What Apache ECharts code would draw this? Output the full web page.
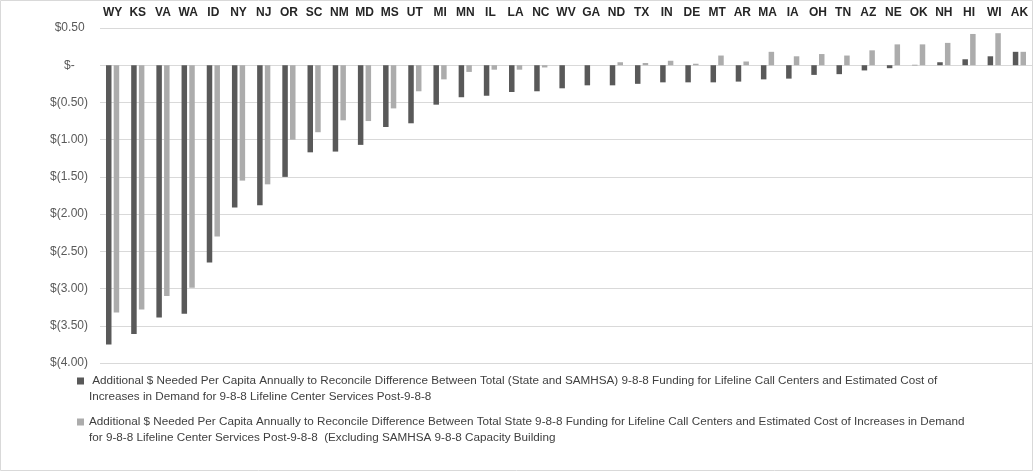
<!DOCTYPE html>
<html>
<head>
<meta charset="utf-8">
<script src="https://cdn.jsdelivr.net/npm/echarts@6/dist/echarts.min.js"></script>
<style>
html,body{margin:0;padding:0;background:#fff;}
#chart{width:1035px;height:473px;}
</style>
</head>
<body>
<div id="chart"></div>
<script>
var states = ['WY','KS','VA','WA','ID','NY','NJ','OR','SC','NM','MD','MS','UT','MI','MN','IL','LA','NC','WV','GA','ND','TX','IN','DE','MT','AR','MA','IA','OH','TN','AZ','NE','OK','NH','HI','WI','AK'];
var totalGap = [-3.75,-3.61,-3.39,-3.34,-2.65,-1.91,-1.88,-1.50,-1.17,-1.16,-1.07,-0.83,-0.78,-0.53,-0.43,-0.41,-0.36,-0.35,-0.31,-0.27,-0.27,-0.25,-0.23,-0.23,-0.23,-0.22,-0.19,-0.18,-0.13,-0.12,-0.07,-0.04,0.005,0.04,0.08,0.12,0.18];
var stateGap = [-3.32,-3.28,-3.10,-2.99,-2.30,-1.55,-1.60,-1.00,-0.90,-0.74,-0.75,-0.58,-0.35,-0.19,-0.09,-0.06,-0.06,-0.03,0,0,0.04,0.03,0.06,0.02,0.13,0.05,0.18,0.12,0.15,0.13,0.20,0.28,0.28,0.30,0.42,0.43,0.18];
var seriesNames = [
  ' Additional $ Needed Per Capita Annually to Reconcile Difference Between Total (State and SAMHSA) 9-8-8 Funding for Lifeline Call Centers and Estimated Cost of\nIncreases in Demand for 9-8-8 Lifeline Center Services Post-9-8-8',
  'Additional $ Needed Per Capita Annually to Reconcile Difference Between Total State 9-8-8 Funding for Lifeline Call Centers and Estimated Cost of Increases in Demand\nfor 9-8-8 Lifeline Center Services Post-9-8-8  (Excluding SAMHSA 9-8-8 Capacity Building'
];
var yMin = -4, yMax = 0.5, yStep = 0.5;

function fmt(v){
  if (Math.abs(v) < 1e-9) return '$-    ';
  if (v > 0) return '$' + v.toFixed(2) + ' ';
  return '$(' + (-v).toFixed(2) + ')';
}

var chart = echarts.init(document.getElementById('chart'), null, {renderer:'canvas'});
var iconPath = 'path://M0,0L7,0L7,7L0,7Z M7,23L7,23.01Z';
chart.setOption({
  animation:false,
  textStyle:{fontFamily:'Liberation Sans, Arial, sans-serif'},
  graphic:[{
    type:'rect', silent:true, z:-1,
    shape:{x:0.5,y:0.5,width:1032,height:470},
    style:{fill:'none',stroke:'#d9d9d9',lineWidth:1}
  }],
  grid:{left:100,right:3,top:28,bottom:110},
  legend:{
    orient:'vertical', left:77, top:373, selectedMode:false, padding:0,
    itemWidth:7, itemHeight:23, itemGap:9,
    icon: iconPath,
    textStyle:{fontFamily:'Liberation Sans, Arial, sans-serif', fontSize:11.7, lineHeight:16, color:'#404040'},
    data:[{name:seriesNames[0]},{name:seriesNames[1]}]
  },
  xAxis:{
    type:'category', data:states, position:'top',
    axisLine:{show:false,onZero:false}, axisTick:{show:false},
    axisLabel:{margin:9, fontSize:12, fontWeight:'bold', color:'#262626', interval:0, fontFamily:'Liberation Sans, Arial, sans-serif'},
    splitLine:{show:false}
  },
  yAxis:{
    type:'value', min:yMin, max:yMax, interval:yStep,
    axisLine:{show:false}, axisTick:{show:false},
    axisLabel:{formatter:fmt, fontSize:12, color:'#595959', margin:12, fontFamily:'Liberation Sans, Arial, sans-serif'},
    splitLine:{lineStyle:{color:'#d9d9d9',width:1}}
  },
  series:[
    {name:seriesNames[0], type:'bar', data:totalGap, barWidth:5.5, barGap:'40%', itemStyle:{color:'#595959'}},
    {name:seriesNames[1], type:'bar', data:stateGap, barWidth:5.5, barGap:'40%', itemStyle:{color:'#acacac'}}
  ]
});
</script>
</body>
</html>
